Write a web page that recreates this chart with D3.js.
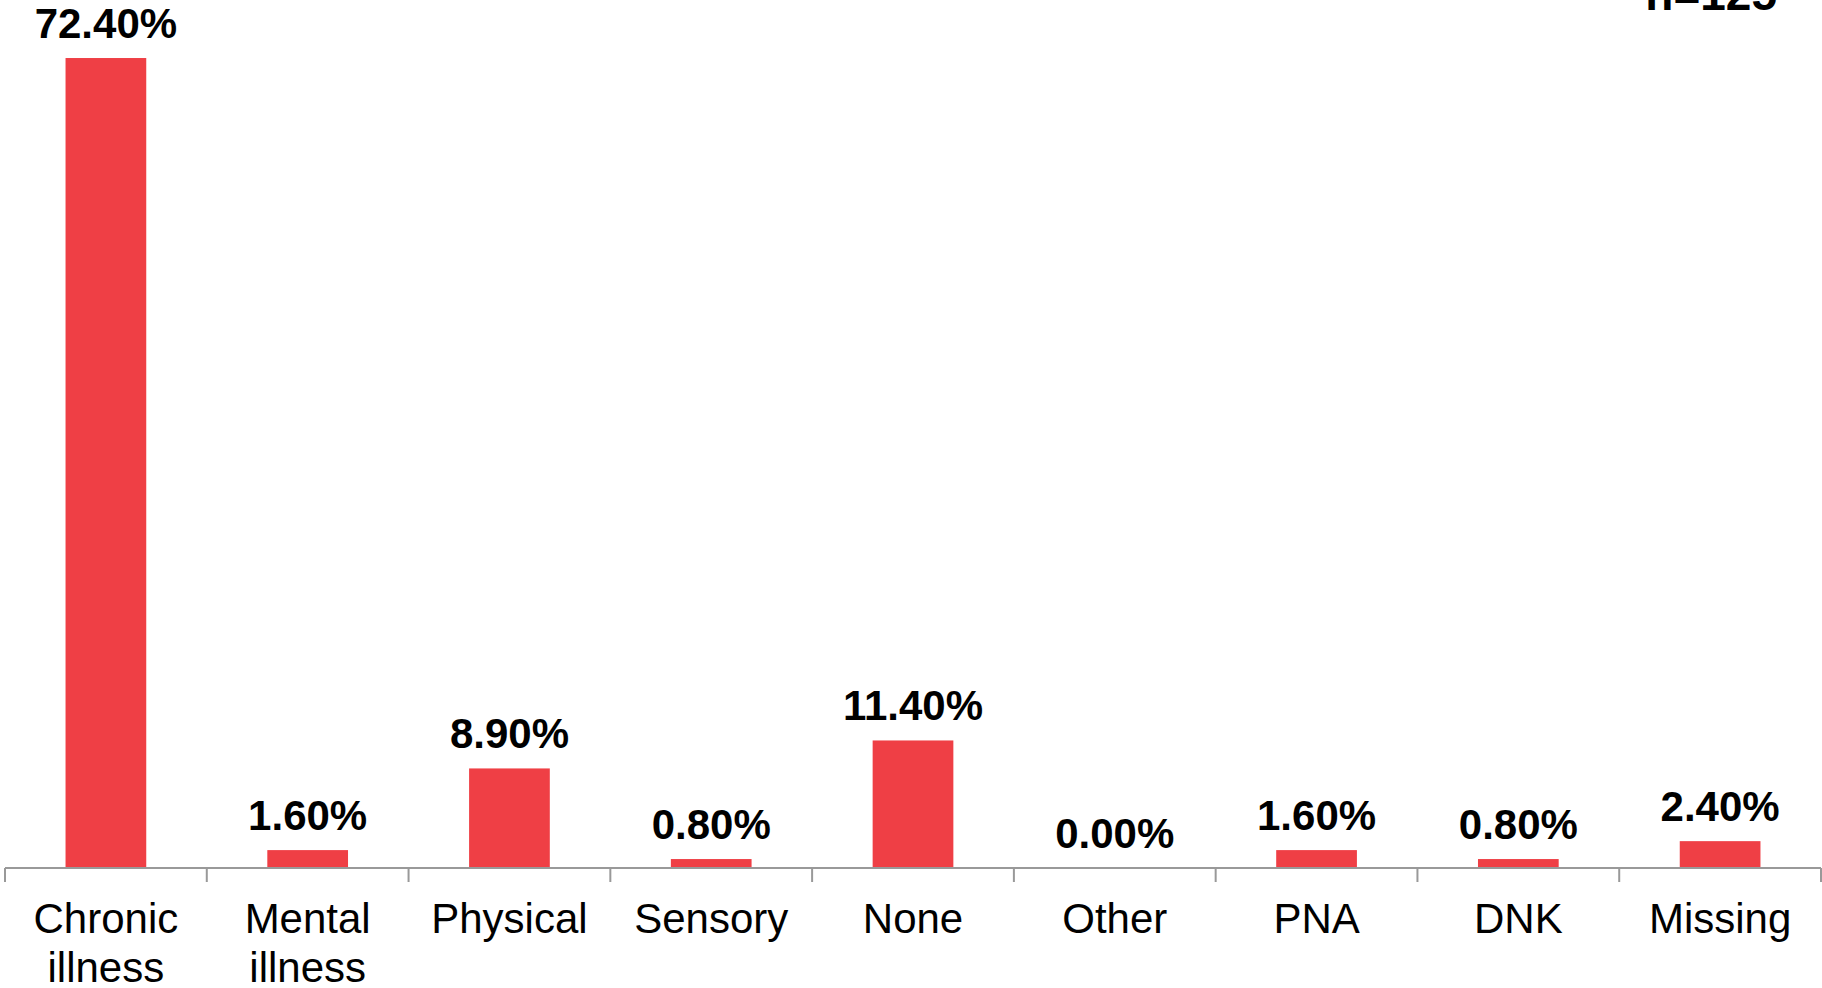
<!DOCTYPE html>
<html>
<head>
<meta charset="utf-8">
<script src="https://cdn.jsdelivr.net/npm/d3@7"></script>
<style>
  html, body { margin: 0; padding: 0; background: #fff; }
  svg { display: block; }
</style>
</head>
<body>
<svg id="chart" width="1822" height="988"></svg>
<script>
// Disability type, share of respondents (%)
const categories = [
  ["Chronic", "illness"],
  ["Mental", "illness"],
  ["Physical"],
  ["Sensory"],
  ["None"],
  ["Other"],
  ["PNA"],
  ["DNK"],
  ["Missing"]
];
const values = [72.4, 1.6, 8.9, 0.8, 11.4, 0.0, 1.6, 0.8, 2.4];
const valueLabels = ["72.40%", "1.60%", "8.90%", "0.80%", "11.40%", "0.00%", "1.60%", "0.80%", "2.40%"];
const sampleNote = "n=125";

const W = 1822, H = 988;
const axisY = 868;
const left = 5, right = 1821;
const font = "'Liberation Sans', Arial, sans-serif";

const svg = d3.select("#chart");

const keys = categories.map((c, i) => i);
const x = d3.scaleBand().domain(keys).range([left, right]).paddingInner(0.6).paddingOuter(0.3);
const y = d3.scaleLinear().domain([0, 80]).range([axisY, axisY - 895]);

// bars
svg.append("g").selectAll("rect")
  .data(values)
  .join("rect")
  .attr("x", (d, i) => x(i))
  .attr("y", d => y(d))
  .attr("width", x.bandwidth())
  .attr("height", d => y(0) - y(d))
  .attr("fill", "#EF3F45");

// value labels
svg.append("g").selectAll("text")
  .data(values)
  .join("text")
  .attr("x", (d, i) => x(i) + x.bandwidth() / 2)
  .attr("y", d => y(d) - 20)
  .attr("text-anchor", "middle")
  .attr("font-family", font)
  .attr("font-weight", "bold")
  .attr("font-size", 42)
  .attr("fill", "#000")
  .text((d, i) => valueLabels[i]);

// category axis: baseline plus tick marks at the band boundaries
const axisG = svg.append("g");
axisG.append("line")
  .attr("x1", left).attr("x2", right)
  .attr("y1", axisY).attr("y2", axisY)
  .attr("stroke", "#999").attr("stroke-width", 2);
const step = x.step();
const boundaries = d3.range(categories.length + 1).map(i => left + i * (right - left) / categories.length);
axisG.selectAll("line.tick")
  .data(boundaries)
  .join("line")
  .attr("class", "tick")
  .attr("x1", d => d).attr("x2", d => d)
  .attr("y1", axisY).attr("y2", axisY + 14)
  .attr("stroke", "#999").attr("stroke-width", 2);

// category labels
const catG = svg.append("g").selectAll("text")
  .data(categories)
  .join("text")
  .attr("x", (d, i) => x(i) + x.bandwidth() / 2)
  .attr("y", 933)
  .attr("text-anchor", "middle")
  .attr("font-family", font)
  .attr("font-size", 42)
  .attr("fill", "#000");
catG.selectAll("tspan")
  .data(d => d)
  .join("tspan")
  .attr("x", function () { return d3.select(this.parentNode).attr("x"); })
  .attr("dy", (d, i) => i === 0 ? 0 : 49)
  .text(d => d);

// sample size note
svg.append("text")
  .attr("x", 1777)
  .attr("y", 10)
  .attr("text-anchor", "end")
  .attr("font-family", font)
  .attr("font-weight", "bold")
  .attr("font-size", 46)
  .attr("fill", "#000")
  .text(sampleNote);
</script>
</body>
</html>
